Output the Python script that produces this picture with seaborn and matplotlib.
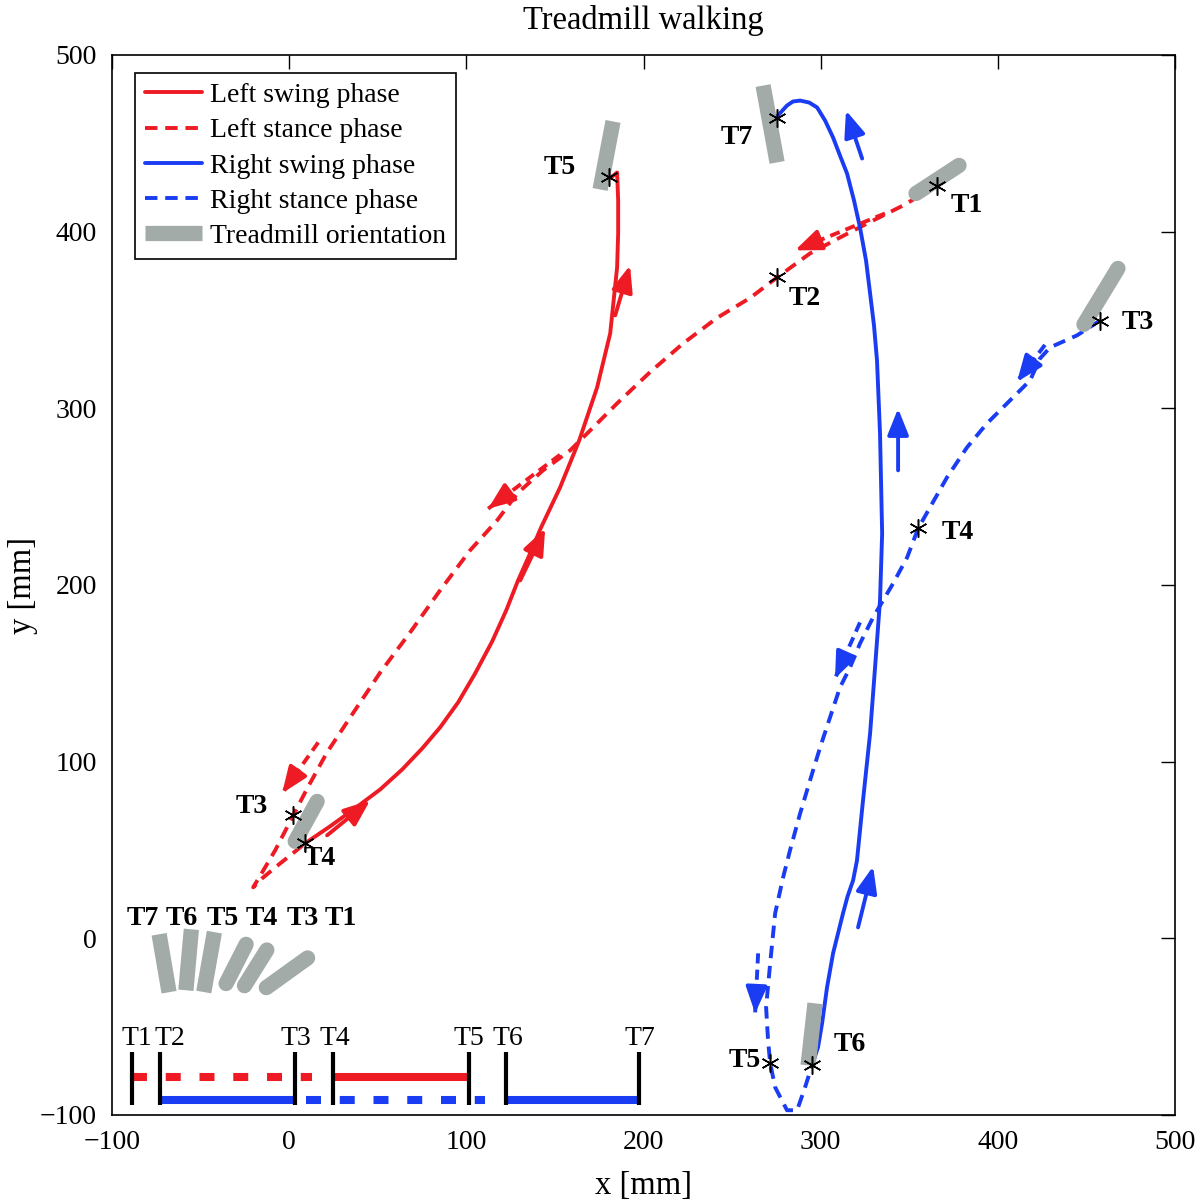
import matplotlib
matplotlib.use("Agg")
import matplotlib.pyplot as plt
from matplotlib.lines import Line2D
import seaborn as sns
import numpy as np

# ---------------- data (mm) ----------------
# Left foot, swing phase (T4 -> T5)
left_swing_x = [9.0, 23.1, 37.2, 51.4, 63.8, 75.1, 85.2, 95.4, 105.0, 114.6, 122.5, 129.2, 136.0, 142.2, 152.9,
                163.7, 173.8, 181.2, 185.1, 185.7, 185.7, 185.1, 181.7]
left_swing_y = [53.8, 63.4, 73.6, 84.3, 95.6, 107.5, 119.4, 133.6, 150.0, 168.1, 185.6, 202.6, 217.9, 232.6, 255.2,
                281.8, 311.8, 342.4, 379.7, 399.0, 417.7, 433.5, 430.7]
# Left foot, stance phase (T1 -> T2 -> T3 -> T4)
left_stance_x = [365.7, 346.5, 326.2, 310.9, 294.0, 275.4, 260.2, 241.5, 222.3, 203.7, 185.1, 169.9, 158.6, 143.3,
                 128.7, 117.4, 102.1, 85.2, 68.3, 51.4, 35.6, 21.4, 10.2, 2.3, -7.9, -15.2, -20.3, -15.2, -5.1, 3.4, 9.0]
left_stance_y = [426.1, 414.8, 404.6, 396.7, 387.7, 374.1, 362.5, 351.2, 336.7, 320.5, 302.8, 287.5, 276.2, 264.9,
                 251.8, 236.6, 219.6, 197.0, 173.2, 150.5, 126.8, 105.3, 84.9, 69.6, 49.8, 37.4, 28.9, 34.0, 42.4, 49.2, 53.8]
# Right foot, swing phase (T6 -> T7)
right_swing_x = [295.1, 298.5, 300.8, 303.6, 307.0, 312.6, 315.2, 318.3, 320.5, 323.9, 327.9, 330.7, 333.5, 334.7,
                 333.5, 331.8, 330.1, 327.9, 325.6, 322.2, 318.8, 314.9, 310.9, 307.0, 302.5, 298.0, 293.5, 288.4,
                 284.4, 281.0, 275.9, 275.4]
right_swing_y = [-71.9, -61.7, -48.1, -27.7, -8.5, 14.1, 23.8, 32.8, 44.1, 78.1, 116.0, 153.4, 191.3, 229.2,
                 285.8, 327.1, 346.9, 365.0, 383.7, 402.4, 417.7, 432.9, 443.1, 453.3, 462.9, 470.3, 473.1, 474.2,
                 473.7, 471.4, 465.8, 464.6]
# Right foot, stance phase (T3 -> T4 -> T5 -> T6)
right_stance_x = [457.7, 444.7, 429.5, 423.8, 418.2, 405.2, 393.9, 382.6, 371.3, 361.7, 355.0, 348.8, 340.9, 329.6,
                  322.2, 316.6, 310.9, 305.3, 299.7, 294.0, 288.4, 282.7, 278.8, 274.3, 271.5, 269.2, 270.3, 271.5,
                  274.3, 281.0, 286.7, 291.2, 295.1]
right_stance_y = [349.7, 341.3, 334.5, 328.2, 315.8, 302.8, 291.5, 277.9, 260.9, 243.9, 232.0, 215.6, 200.9, 181.7,
                  166.9, 153.4, 142.0, 125.1, 108.1, 89.4, 70.7, 49.8, 34.5, 14.1, -14.1, -39.0, -57.7, -70.7,
                  -84.3, -97.3, -97.3, -84.3, -71.9]

# direction arrows: start -> end
left_swing_arrows = [((21.4, 58.3), (45.7, 78.1)), ((130.4, 202.6), (144.5, 232.0)), ((184.0, 352.6), (192.4, 380.9))]
left_stance_arrows = [((336.3, 410.3), (285.5, 389.4)), ((152.9, 273.7), (112.3, 243.2)), ((16.4, 110.9), (-4.0, 82.1))]
right_swing_arrows = [((321.1, 6.2), (329.6, 40.7)), ((343.7, 264.9), (343.7, 299.9)), ((323.4, 441.4), (314.3, 468.6))]
right_stance_arrows = [((426.6, 335.9), (410.8, 315.0)), ((322.2, 178.8), (308.1, 147.1)), ((264.7, -8.5), (263.0, -42.4))]

# event markers
left_ev_labels = ["T1", "T2", "T3", "T4", "T5"]
left_ev_x = [365.7, 275.4, 2.3, 9.0, 180.6]
left_ev_y = [426.1, 374.1, 69.6, 53.8, 431.2]
left_lab_x = [382.6, 291.2, -20.9, 17.5, 152.9]
left_lab_y = [414.8, 362.2, 74.7, 45.3, 436.3]

right_ev_labels = ["T3", "T4", "T5", "T6", "T7"]
right_ev_x = [457.7, 355.0, 271.5, 295.1, 275.4]
right_ev_y = [349.7, 232.0, -70.7, -71.9, 464.6]
right_lab_x = [479.1, 377.5, 257.3, 316.6, 252.8]
right_lab_y = [348.6, 229.8, -69.0, -60.0, 453.3]

# treadmill orientation bars in the plot: (x0, y0, x1, y1, rounded)
tm_bars = [(182.8, 462.4, 175.5, 423.9, False),   # T5
           (267.5, 482.7, 275.4, 439.2, False),   # T7
           (353.8, 421.6, 378.1, 437.5, True),    # T1
           (448.6, 347.5, 467.8, 379.2, True),    # T3 (right)
           (3.4, 54.9, 15.8, 77.5, True),         # T3/T4 (left)
           (296.8, -36.8, 292.9, -71.9, False)]   # T6
# fan of treadmill orientations (bottom left)
fan_labels = ["T7", "T6", "T5", "T4", "T3", "T1"]
fan_label_x = [-82.9, -60.7, -37.5, -15.3, 7.9, 29.0]
fan_label_y = 11.3
fan_bars = [(-73.4, 2.3, -67.8, -30.5, False),
            (-55.2, 5.1, -58.3, -29.4, False),
            (-42.2, 3.5, -48.2, -30.4, False),
            (-35.6, -25.6, -24.3, -3.4, True),
            (-25.2, -26.8, -12.6, -6.6, True),
            (-12.9, -27.9, 10.4, -11.1, True)]

# timeline
tl_labels = ["T1", "T2", "T3", "T4", "T5", "T6", "T7"]
tl_tick_x = [-88.6, -72.8, 3.4, 24.9, 101.5, 122.3, 197.3]
tl_label_x = [-86.0, -67.5, 3.8, 26.0, 101.6, 123.6, 198.0]
tl_label_y = -56.6
tl_tick_y = (-64.3, -94.4)
tl_red_y = -78.5
tl_blue_y = -91.7
tl_red_dashed = (-88.6, 12.9)
tl_red_solid = (24.9, 101.1)
tl_blue_solid = [(-72.8, 3.8), (122.3, 198.3)]
tl_blue_dashed = (9.4, 110.6)

# ---------------- style ----------------
RED = "#ee1b24"
BLUE = "#1a3cf2"
GRAY = "#a3aba8"

sns.set_theme(style="white")
plt.rcParams["font.family"] = ["Liberation Serif", "DejaVu Serif"]
for k in ["text.color", "axes.labelcolor", "xtick.color", "ytick.color", "axes.edgecolor"]:
    plt.rcParams[k] = "black"

FS = 20

fig = plt.figure(figsize=(12, 12.01), dpi=100)
ax = fig.add_axes([112 / 1200, 1 - 1115 / 1201, 1063 / 1200, 1060 / 1201])

LW = 2.8
DASH = (3.2, 2.0)

sns.lineplot(x=left_swing_x, y=left_swing_y, sort=False, estimator=None, ax=ax,
             color=RED, lw=LW, zorder=3)
sns.lineplot(x=left_stance_x, y=left_stance_y, sort=False, estimator=None, ax=ax,
             color=RED, lw=LW, linestyle=(0, DASH), zorder=3)
sns.lineplot(x=right_swing_x, y=right_swing_y, sort=False, estimator=None, ax=ax,
             color=BLUE, lw=LW, zorder=3)
sns.lineplot(x=right_stance_x, y=right_stance_y, sort=False, estimator=None, ax=ax,
             color=BLUE, lw=LW, linestyle=(0, DASH), zorder=3)


def arrows(lst, color, dashed):
    for (s, e) in lst:
        s = np.array(s)
        e = np.array(e)
        if dashed:
            ax.plot([s[0], e[0]], [s[1], e[1]], color=color, lw=LW, linestyle=(0, (2.6, 1.6)),
                    dash_capstyle="butt", zorder=3)
            hs = e - (e - s) * 0.25
            ax.annotate("", xy=tuple(e), xytext=tuple(hs),
                        arrowprops=dict(arrowstyle="-|>,head_length=0.8,head_width=0.32",
                                        mutation_scale=20, color=color, lw=LW,
                                        shrinkA=0, shrinkB=0), zorder=3)
        else:
            ax.annotate("", xy=tuple(e), xytext=tuple(s),
                        arrowprops=dict(arrowstyle="-|>,head_length=0.8,head_width=0.32",
                                        mutation_scale=20, color=color, lw=LW,
                                        shrinkA=0, shrinkB=0), zorder=3)


arrows(left_swing_arrows, RED, False)
arrows(left_stance_arrows, RED, True)
arrows(right_swing_arrows, BLUE, False)
arrows(right_stance_arrows, BLUE, True)


def bars(lst):
    for (x0, y0, x1, y1, rnd) in lst:
        ax.plot([x0, x1], [y0, y1], color=GRAY, lw=11,
                solid_capstyle="round" if rnd else "butt", zorder=4)


bars(tm_bars)
bars(fan_bars)

star = (6, 2, 0)
ax.plot(left_ev_x, left_ev_y, linestyle="none", marker=star, ms=13, mew=1.1, color="black", zorder=5)
ax.plot(right_ev_x, right_ev_y, linestyle="none", marker=star, ms=13, mew=1.1, color="black", zorder=5)
for lab, x, y in zip(left_ev_labels, left_lab_x, left_lab_y):
    ax.text(x, y, lab, ha="center", va="center", fontsize=FS, fontweight="bold", zorder=6)
for lab, x, y in zip(right_ev_labels, right_lab_x, right_lab_y):
    ax.text(x, y, lab, ha="center", va="center", fontsize=FS, fontweight="bold", zorder=6)
for lab, x in zip(fan_labels, fan_label_x):
    ax.text(x, fan_label_y, lab, ha="center", va="center", fontsize=FS, fontweight="bold", zorder=6)

# timeline
TLW = 5.8
ax.plot(list(tl_red_dashed), [tl_red_y] * 2, color=RED, lw=TLW, linestyle=(0, (1.86, 2.33)),
        dash_capstyle="butt", zorder=3)
ax.plot(list(tl_red_solid), [tl_red_y] * 2, color=RED, lw=TLW, solid_capstyle="butt", zorder=3)
for seg in tl_blue_solid:
    ax.plot(list(seg), [tl_blue_y] * 2, color=BLUE, lw=TLW, solid_capstyle="butt", zorder=3)
ax.plot(list(tl_blue_dashed), [tl_blue_y] * 2, color=BLUE, lw=TLW, linestyle=(0, (1.86, 2.33)),
        dash_capstyle="butt", zorder=3)
ax.vlines(tl_tick_x, tl_tick_y[1], tl_tick_y[0], color="black", lw=3, zorder=4)
for lab, x in zip(tl_labels, tl_label_x):
    ax.text(x, tl_label_y, lab, ha="center", va="center", fontsize=FS, zorder=6)

# axes
ax.set_xlim(-100, 500)
ax.set_ylim(-100, 500)
ax.set_xticks(np.arange(-100, 501, 100))
ax.set_yticks(np.arange(-100, 501, 100))
ax.set_xticklabels(["\u2212100", "0", "100", "200", "300", "400", "500"])
ax.set_yticklabels(["\u2212100", "0", "100", "200", "300", "400", "500"])
ax.tick_params(direction="in", length=10, width=1, top=True, right=True, labelsize=FS,
               colors="black", pad=11)
for sp in ax.spines.values():
    sp.set_linewidth(1.2)
    sp.set_color("black")
ax.set_xlabel("x [mm]", fontsize=23.5, labelpad=11)
ax.set_ylabel("y [mm]", fontsize=23.5, va="center")
ax.yaxis.set_label_coords(-0.084, 0.5)
ax.set_title("Treadmill walking", fontsize=23.5, pad=19)
ax.grid(False)

handles = [Line2D([0], [0], color=RED, lw=LW),
           Line2D([0], [0], color=RED, lw=LW, linestyle=(0, DASH)),
           Line2D([0], [0], color=BLUE, lw=LW),
           Line2D([0], [0], color=BLUE, lw=LW, linestyle=(0, DASH)),
           Line2D([0], [0], color=GRAY, lw=11, solid_capstyle="butt")]
labels = ["Left swing phase", "Left stance phase", "Right swing phase", "Right stance phase",
          "Treadmill orientation"]
leg = ax.legend(handles, labels, loc="upper left", bbox_to_anchor=(0.0216, 0.983), borderaxespad=0,
                fontsize=FS, frameon=True, fancybox=False, edgecolor="black", framealpha=1,
                handlelength=2.05, handletextpad=0.3, labelspacing=0.35, borderpad=0.35)
leg.get_frame().set_linewidth(1.2)
leg.set_zorder(10)

fig.savefig("out.png", dpi=100)
